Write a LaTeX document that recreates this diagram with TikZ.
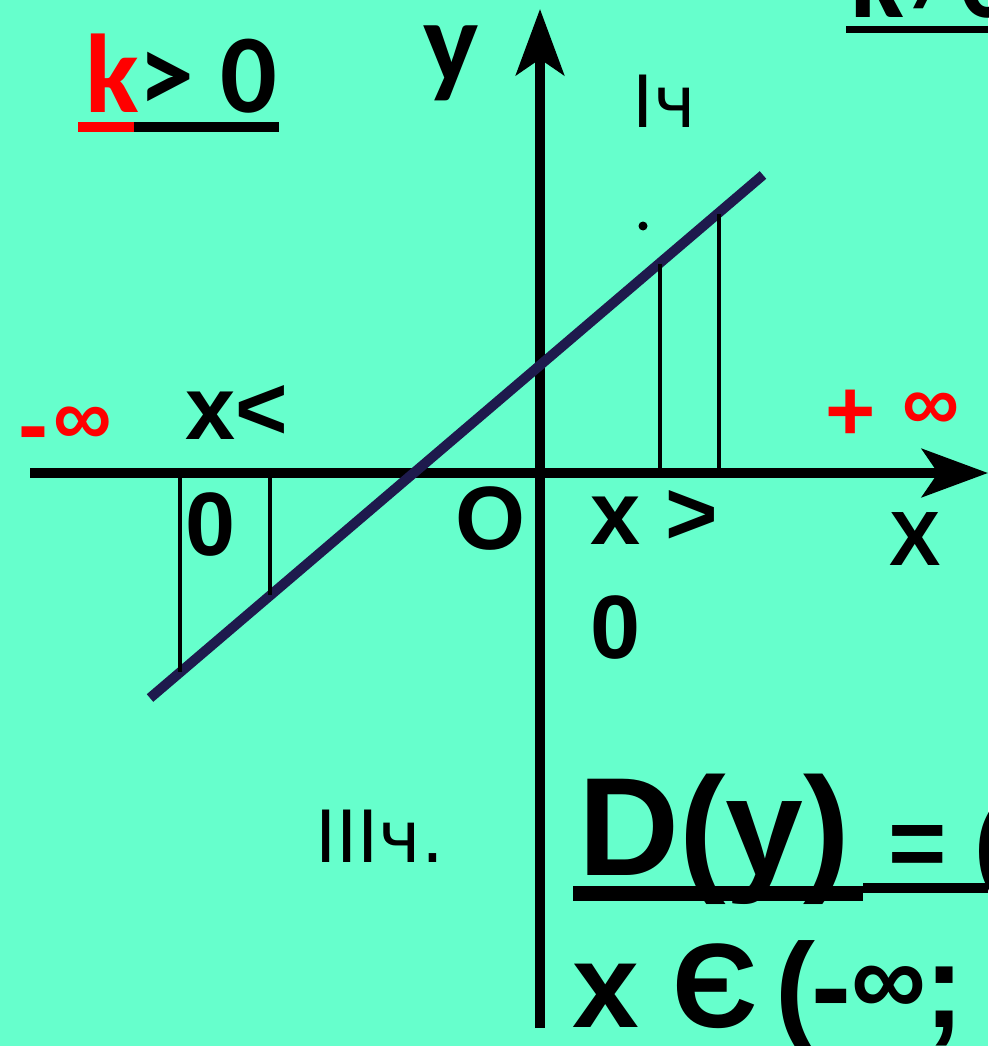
\documentclass[tikz,border=0pt]{standalone}
\usepackage{fontspec}
\setmainfont{Liberation Sans}
\newfontfamily\carlito{Carlito}
\newfontfamily\gothic{DejaVu Sans}
\usetikzlibrary{arrows.meta}
\definecolor{bg}{HTML}{66FFCC}
\definecolor{navy}{HTML}{1E1A4D}
\definecolor{myred}{HTML}{FF0000}
\newcommand{\fs}[1]{\fontsize{#1}{#1}\selectfont}
\begin{document}
\begin{tikzpicture}[x=1pt,y=-1pt,
  lbl/.style={inner sep=0pt, anchor=base west, font=\bfseries},
  qlbl/.style={inner sep=0pt, anchor=base west, font=\gothic\fs{72}},
  axis/.style={line width=10pt, -{Stealth[length=66pt,width=48pt,inset=16pt]}},
  proj/.style={line width=4pt},
  graphline/.style={navy, line width=10pt},
  uline/.style={fill=black}]
\fill[bg] (0,0) rectangle (988,1046);
\useasboundingbox (0,0) rectangle (988,1046);
% axes
\coordinate (xl) at (30,473);
\coordinate (xr) at (988,473);
\coordinate (yb) at (540,1028);
\coordinate (yt) at (540,9);
\draw[axis] (xl) -- (xr);
\draw[axis] (yb) -- (yt);
% graph line
\coordinate (la) at (150,698);
\coordinate (lb) at (763,175);
\draw[graphline] (la) -- (lb);
% projections
\coordinate (p1a) at (180,473); \coordinate (p1b) at (180,672);
\coordinate (p2a) at (270,473); \coordinate (p2b) at (270,595);
\coordinate (p3a) at (660,473); \coordinate (p3b) at (660,264);
\coordinate (p4a) at (719,473); \coordinate (p4b) at (719,214);
\draw[proj] (p1a) -- (p1b);
\draw[proj] (p2a) -- (p2b);
\draw[proj] (p3a) -- (p3b);
\draw[proj] (p4a) -- (p4b);
% titles
\node[lbl] (kpos) at (85,113) {\carlito\bfseries\fs{112}\textcolor{myred}{k}> 0};
\fill[myred] (78,122) rectangle (134,132);
\fill[uline] (134,122) rectangle (279,132);
\node[lbl] (kne) at (850,18) {\carlito\bfseries\fs{112}k≠0};
\fill[uline] (846,26) rectangle (988,33);
\node[lbl] (ylab) at (423,83) {\carlito\bfseries\fs{117}y};
% quadrants
\node[qlbl] (q1) at (632,128) {Iч};
\fill (643,226) circle (4.5);
\node[qlbl] (q3) at (315,862) {IIIч.};
% axis labels
\node[lbl, text=myred] (minus) at (18,455) {\fs{90}-};
\node[lbl, text=myred] (minf) at (53,445) {\fs{82}∞};
\node[lbl, text=myred] (plus) at (825,440) {\fs{86}+};
\node[lbl, text=myred] (pinf) at (902,430) {\fs{80}∞};
\node[lbl] (xneg) at (185,439) {\fs{90}x<};
\node[lbl] (xneg0) at (185,555) {\fs{90}0};
\node[lbl] (orig) at (455,549) {\fs{90}O};
\node[lbl] (xpos) at (590,544) {\fs{90}x >};
\node[lbl] (xpos0) at (590,658) {\fs{90}0};
\node[lbl] (xlab) at (889,565) {\fs{77}X};
% domain
\node[lbl] (dy) at (578,875) {\fs{140}D(y)};
\fill[uline] (573,886) rectangle (863,901);
\node[lbl] (eq) at (888,877) {\fs{100}= (};
\fill[uline] (863,883) rectangle (988,893);
\node[lbl] (xin) at (572,1027) {\fs{120}x Є};
\node[lbl] (xinp) at (775,1027) {\fs{120}(};
\node[lbl] (xinm) at (811,1027) {\fs{120}-};
\node[lbl] (xini) at (851,1015) {\fs{105}∞};
\node[lbl] (xins) at (924,1027) {\fs{120};};
\end{tikzpicture}
\end{document}
